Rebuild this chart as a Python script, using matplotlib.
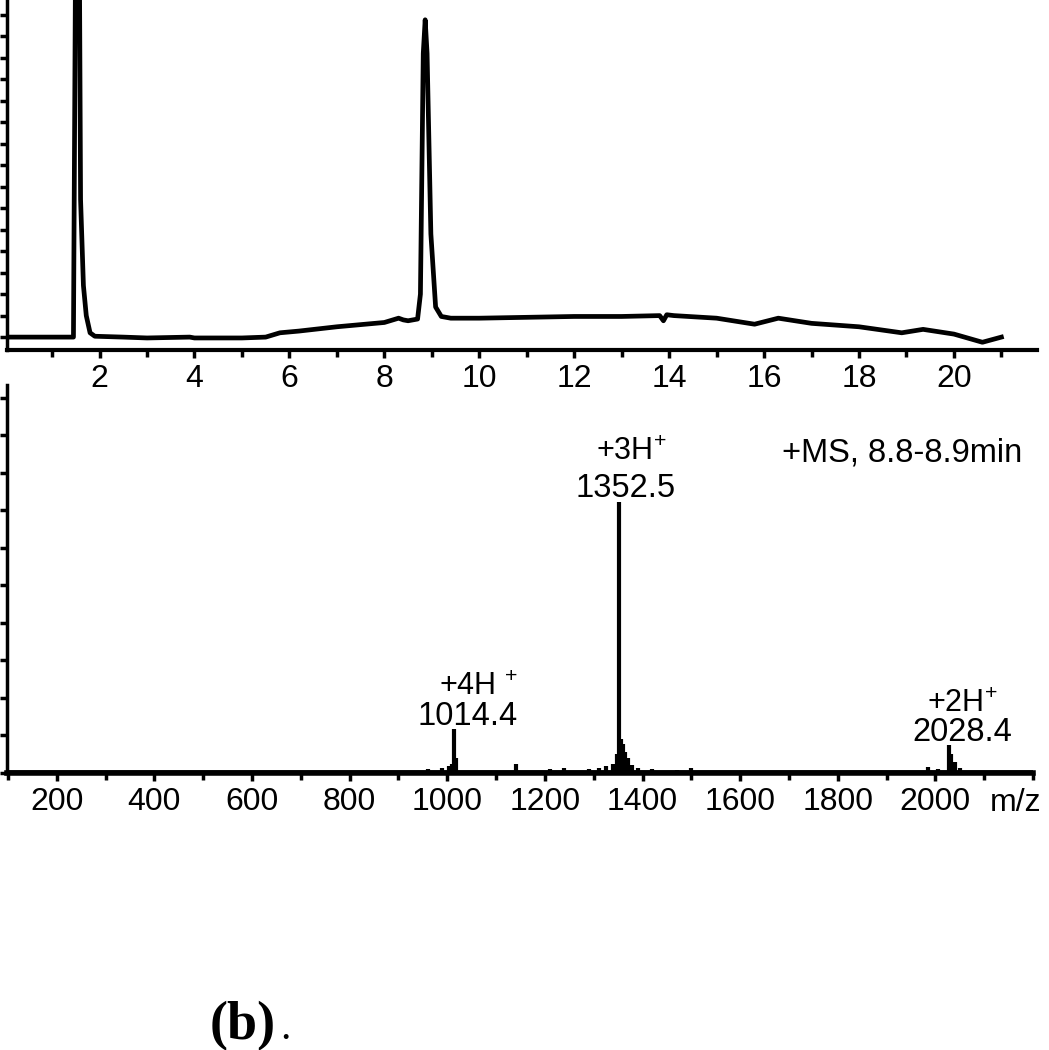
import matplotlib
matplotlib.use("Agg")
import matplotlib.pyplot as plt
from matplotlib.ticker import MultipleLocator, FixedLocator, NullFormatter

plt.rcParams['font.family'] = ['Liberation Sans', 'DejaVu Sans']
plt.rcParams['mathtext.fontset'] = 'custom'
plt.rcParams['mathtext.rm'] = 'Liberation Sans'
plt.rcParams['mathtext.it'] = 'Liberation Sans'

# chromatogram (time in min, signal in arbitrary units)
t_min = [0.05, 1.45, 1.50, 1.57, 1.60, 1.66, 1.72, 1.80, 1.90, 2.5, 3.0, 3.9, 4.0,
         5.0, 5.5, 5.8, 6.2, 7.0, 8.0, 8.3, 8.4, 8.5, 8.7, 8.76, 8.82, 8.86, 8.90,
         8.98, 9.08, 9.2, 9.4, 10.0, 11.0, 12.0, 13.0, 13.8, 13.88, 13.95, 14.1,
         15.0, 15.8, 16.3, 17.0, 18.0, 18.9, 19.35, 20.0, 20.6, 21.0]
signal = [0.0, 0.0, 5.0, 5.0, 1.6, 0.6, 0.25, 0.05, 0.01, 0.0, -0.01, 0.0, -0.01,
          -0.01, 0.0, 0.05, 0.07, 0.12, 0.17, 0.22, 0.20, 0.19, 0.21, 0.5, 3.3, 3.69, 3.3,
          1.2, 0.35, 0.24, 0.22, 0.22, 0.23, 0.24, 0.24, 0.25, 0.19, 0.26, 0.25,
          0.22, 0.15, 0.22, 0.16, 0.12, 0.05, 0.09, 0.035, -0.06, 0.0]

# mass spectrum (m/z, relative intensity)
mz = [880, 920, 960, 990, 1003, 1010, 1014.4, 1018, 1140, 1180, 1210, 1240, 1290,
      1310, 1325, 1340, 1348, 1352.5, 1356, 1360, 1364, 1370, 1378, 1390, 1420, 1470,
      1500, 1985, 2005, 2028.4, 2033, 2040, 2050, 2070]
intensity = [0.02, 0.03, 0.05, 0.06, 0.09, 0.12, 0.59, 0.2, 0.12, 0.03, 0.05, 0.06, 0.05,
             0.07, 0.09, 0.12, 0.25, 3.61, 0.45, 0.38, 0.28, 0.2, 0.1, 0.06, 0.05, 0.04,
             0.06, 0.08, 0.05, 0.37, 0.25, 0.15, 0.06, 0.03]

peak_labels = [("+3H$^{+}$", "1352.5", 1377, 4.17, 1365, 3.68),
               ("+4H $^{+}$", "1014.4", 1064, 1.04, 1041, 0.64),
               ("+2H$^{+}$", "2028.4", 2055, 0.81, 2055, 0.43)]

fig = plt.figure(figsize=(10.49, 10.50), dpi=100)
ax1 = fig.add_axes([7/1049, 1-350/1050, 1030/1049, 350/1050])
ax2 = fig.add_axes([7/1049, 1-773/1050, 1026/1049, 388/1050])

ax1.plot(t_min, signal, color='black', lw=3.4, solid_joinstyle='round')
ax1.set_xlim(0.05, 21.75)
ax1.set_ylim(-0.15, 3.92)
ax1.xaxis.set_major_locator(FixedLocator(range(2, 21, 2)))
ax1.xaxis.set_minor_locator(FixedLocator(range(1, 22, 2)))
ax1.yaxis.set_major_locator(MultipleLocator(1))
ax1.yaxis.set_minor_locator(MultipleLocator(0.25))
ax1.yaxis.set_major_formatter(NullFormatter())

ax2.vlines(mz, 0, intensity, color='black', lw=3.0)
ax2.axhline(0.0, color='black', lw=4)
ax2.set_xlim(98, 2200)
ax2.set_ylim(0, 5.17)
ax2.xaxis.set_major_locator(FixedLocator(range(200, 2001, 200)))
ax2.xaxis.set_minor_locator(FixedLocator(range(100, 2201, 100)))
ax2.yaxis.set_major_locator(MultipleLocator(1))
ax2.yaxis.set_minor_locator(MultipleLocator(0.5))
ax2.yaxis.set_major_formatter(NullFormatter())

for ax in (ax1, ax2):
    for s in ('top', 'right'):
        ax.spines[s].set_visible(False)
    ax.spines['left'].set_linewidth(2.5)
    ax.spines['bottom'].set_linewidth(3.0)
    ax.tick_params(axis='x', which='major', direction='out', length=6, width=2.5,
                   labelsize=23, pad=4)
    ax.tick_params(axis='x', which='minor', direction='out', length=5, width=2.5)
    ax.tick_params(axis='y', which='both', direction='out', length=5, width=2.5)
    ax.patch.set_visible(False)
ax2.spines['bottom'].set_linewidth(4)

for top, num, xt, yt, xn, yn in peak_labels:
    ax2.text(xt, yt, top, ha='center', va='baseline', fontsize=22)
    ax2.text(xn, yn, num, ha='center', va='baseline', fontsize=23.5)
ax2.text(1932, 4.15, "+MS, 8.8-8.9min", ha='center', va='baseline', fontsize=23.5)
ax2.annotate("m/z", xy=(2112, 0), xycoords=('data', 'axes fraction'),
             xytext=(0, -11), textcoords='offset points', ha='left', va='top',
             fontsize=23, annotation_clip=False)

fig.text(210/1049, 1-1039/1050, "(b)", family='Liberation Serif', weight='bold',
         fontsize=39, va='baseline', ha='left')
fig.text(280/1049, 1-1039/1050, ".", family='Liberation Serif',
         fontsize=30, va='baseline', ha='left')

fig.savefig("out.png", dpi=100)
